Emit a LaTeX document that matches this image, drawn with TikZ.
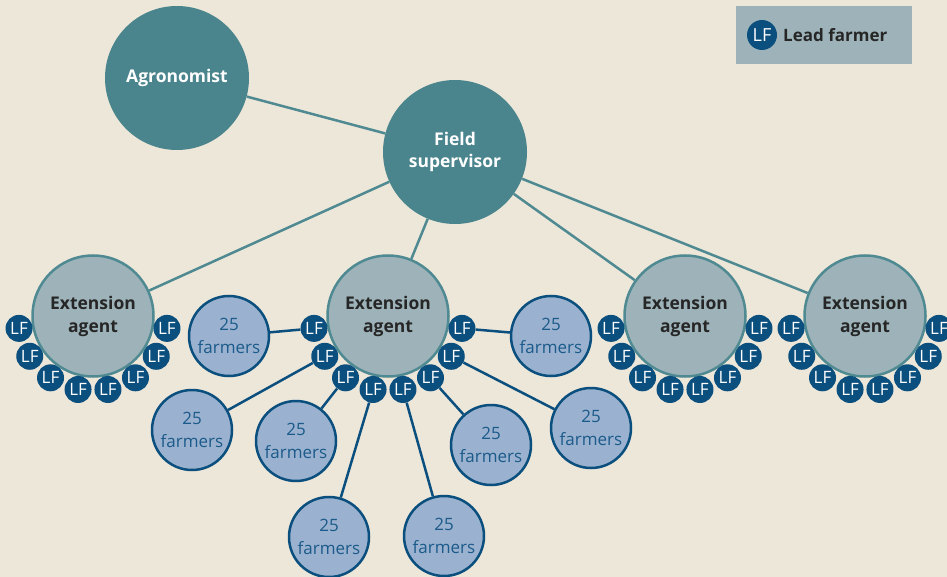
\documentclass[tikz,border=0pt]{standalone}
\usepackage{fontspec}
\usetikzlibrary{calc}
\setmainfont{Open Sans}
\definecolor{bg}{HTML}{EDE7D9}
\definecolor{tealdk}{HTML}{4A848C}
\definecolor{tealln}{HTML}{4F8A92}
\definecolor{agentfill}{HTML}{9DB3B9}
\definecolor{lfblue}{HTML}{0B4F7E}
\definecolor{farmfill}{HTML}{9AB2CF}
\definecolor{farmtext}{HTML}{1B5A8A}
\definecolor{darktext}{HTML}{262626}
\tikzset{
  boss/.style={circle, fill=tealdk, text=white, minimum size=144pt, inner sep=0pt, align=center, font=\fontsize{17.5}{22}\selectfont\bfseries},
  agent/.style={circle, fill=agentfill, draw=tealln, line width=2.5pt, text=darktext, minimum size=121pt, inner sep=0pt, align=center, font=\fontsize{17.5}{23}\selectfont\bfseries},
  lf/.style={circle, fill=lfblue, text=white, minimum size=27pt, inner sep=0pt, font=\fontsize{17}{17}\selectfont},
  farm/.style={circle, fill=farmfill, draw=lfblue, line width=2.5pt, text=farmtext, minimum size=80pt, inner sep=0pt, align=center, font=\fontsize{17}{23}\selectfont},
  tline/.style={draw=tealln, line width=2.5pt},
  bline/.style={draw=lfblue, line width=2.5pt},
}
\begin{document}
\begin{tikzpicture}[x=1pt,y=-1pt]
\fill[bg] (0,0) rectangle (947,577);
\useasboundingbox (0,0) rectangle (947,577);
% legend
\node[fill=agentfill, minimum width=176pt, minimum height=58pt, inner sep=0pt] (legend) at (824,35) {};
\node[lf, minimum size=30pt, font=\fontsize{18}{18}\selectfont] (leglf) at (762,35) {LF};
\node[anchor=west, text=darktext, inner sep=0pt, font=\fontsize{17}{17}\selectfont\bfseries] (legtext) at (783,35.5) {Lead farmer};
% top
\node[boss] (agro) at (177,78) {Agronomist};
\node[boss] (fs) at (455,152) {Field\\supervisor};
% agents
\foreach \i/\x in {1/93,2/388,3/685,4/865}{
  \node[agent] (ag\i) at (\x,316) {Extension\\agent};
}
\draw[tline] (agro) -- (fs);
\foreach \i in {1,...,4}{ \draw[tline] (fs) -- (ag\i); }
% lead farmers
\foreach \i/\x in {1/93,2/388,3/685,4/865}{
  \foreach \k in {1,...,8}{
    \pgfmathsetmacro\ang{270+(\k-4.5)*23}
    \node[lf] (lf\i-\k) at ($(\x,316)+(\ang:75 and -75)$) {LF};
  }
}
% farmers
\node[farm] (f1) at (229,336) {25\\farmers};
\node[farm] (f2) at (551,336) {25\\farmers};
\node[farm] (f3) at (491,445) {25\\farmers};
\node[farm] (f4) at (591,428) {25\\farmers};
\node[farm] (f5) at (192,430) {25\\farmers};
\node[farm] (f6) at (296,441) {25\\farmers};
\node[farm] (f7) at (329,537) {25\\farmers};
\node[farm] (f8) at (444,536) {25\\farmers};
\foreach \k/\f in {1/1,2/5,3/6,4/7,5/8,6/3,7/4,8/2}{
  \draw[bline] (lf2-\k) -- (f\f);
}
\end{tikzpicture}
\end{document}
